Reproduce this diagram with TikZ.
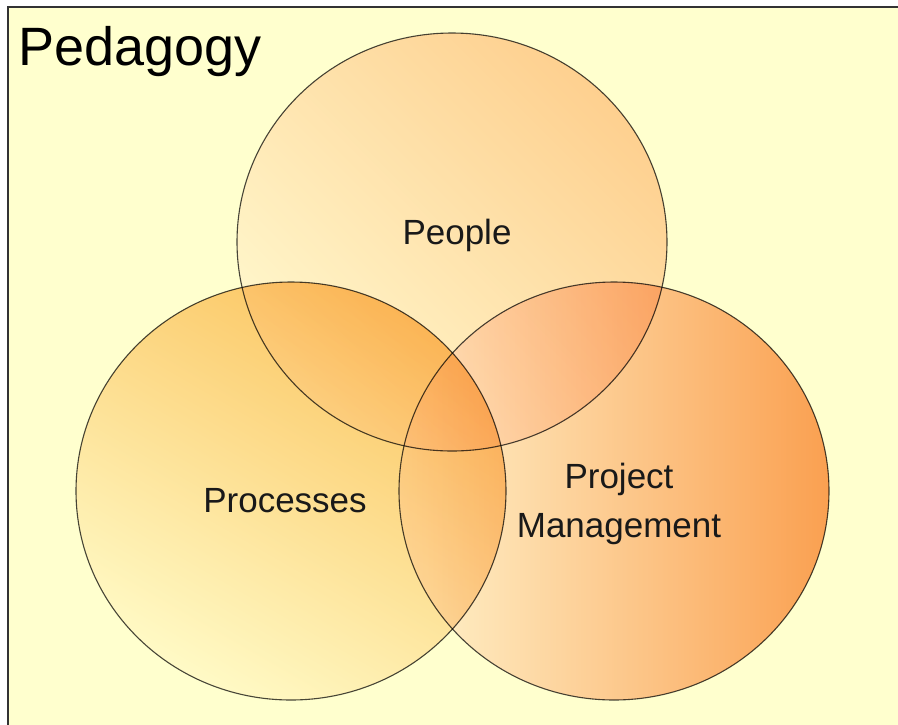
\documentclass[tikz,border=0pt]{standalone}
\usepackage{fontspec}
\setmainfont{Liberation Sans}
\definecolor{bgyellow}{RGB}{255,255,206}
\definecolor{peopledark}{RGB}{254,208,178}
\definecolor{peoplelight}{RGB}{255,248,255}
\definecolor{procdark}{RGB}{251,196,118}
\definecolor{proclight}{RGB}{255,250,245}
\definecolor{pmdark}{RGB}{250,160,100}
\definecolor{pmlight}{RGB}{255,244,255}
\begin{document}
\begin{tikzpicture}
	[x=1pt, y=-1pt,
	ring/.style={draw=black!72, line width=1.1pt},
	vennlabel/.style={font=\fontsize{35}{42}\selectfont, inner sep=0pt, anchor=base, text=black!90}]
	\useasboundingbox (0,0) rectangle (898,724);
	\clip (0,0) rectangle (898,724);
	\fill[bgyellow] (8,7) rectangle (910,730);
	\draw[black!80, line width=1.2pt] (8,730) -- (8,7) -- (910,7);
	\node[font=\fontsize{54}{60}\selectfont, inner sep=0pt, anchor=base west] (title) at (18,65) {Pedagogy};
	\begin{scope}[blend mode=multiply]
		\path[ring, top color=peopledark, bottom color=peoplelight, shading angle=-45]
			(452,242) ellipse [x radius=215pt, y radius=209pt];
		\path[ring, top color=procdark, bottom color=proclight, shading angle=-30]
			(291,491) ellipse [x radius=215pt, y radius=209pt];
		\path[ring, left color=pmlight, right color=pmdark]
			(614,491) ellipse [x radius=215pt, y radius=209pt];
	\end{scope}
	\node[vennlabel] (people) at (457,244) {People};
	\node[vennlabel] (processes) at (285,512) {Processes};
	\node[vennlabel] (project) at (619,488) {Project};
	\node[vennlabel] (management) at (619,537) {Management};
\end{tikzpicture}
\end{document}
